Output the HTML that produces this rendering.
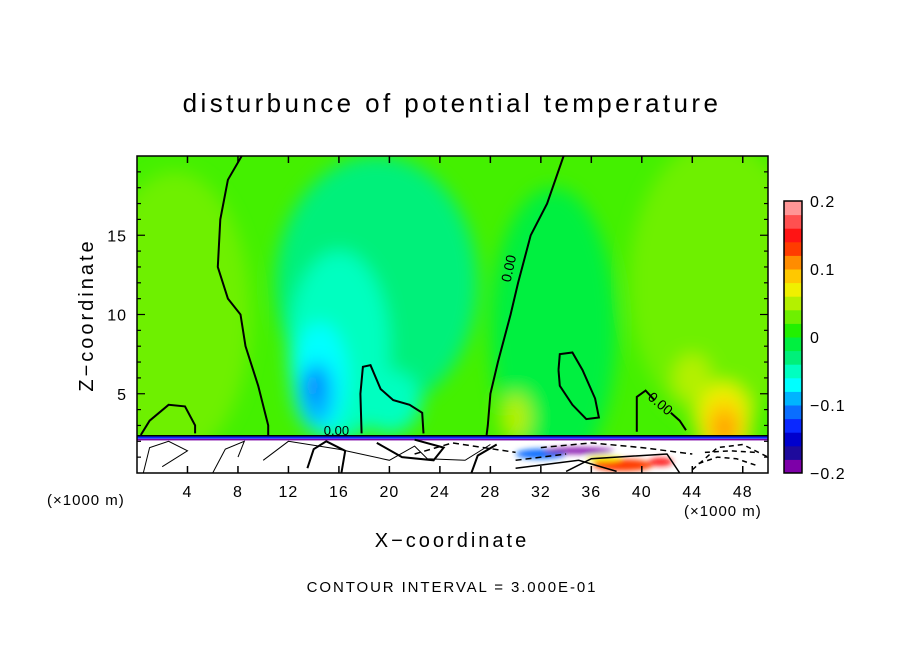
<!DOCTYPE html>
<html><head><meta charset="utf-8"><style>
html,body{margin:0;padding:0;background:#fff;}
svg{display:block;font-family:"Liberation Sans",sans-serif;}
</style></head><body>
<svg id="chart" width="904" height="654" viewBox="0 0 904 654" xmlns="http://www.w3.org/2000/svg">
<defs>
<clipPath id="plotclip"><rect x="137" y="156" width="631" height="317"/></clipPath>
<filter id="blur" x="-50%" y="-50%" width="200%" height="200%"><feGaussianBlur stdDeviation="9"/></filter>
<filter id="blur2" x="-50%" y="-50%" width="200%" height="200%"><feGaussianBlur stdDeviation="3"/></filter>
</defs>
<text x="452" y="112" text-anchor="middle" font-size="26" fill="#000" letter-spacing="3.4">disturbunce of potential temperature</text>
<g id="field" clip-path="url(#plotclip)"></g>
<g id="lines" clip-path="url(#plotclip)" fill="none" stroke="#000" stroke-width="2"></g>
<rect x="137" y="156" width="631" height="317" fill="none" stroke="#000" stroke-width="1.5"/>
<g id="axes"></g>
<g id="cbar"></g>
<text x="452" y="547" text-anchor="middle" font-size="20" letter-spacing="3">X−coordinate</text>
<text transform="translate(93,315) rotate(-90)" text-anchor="middle" font-size="20" letter-spacing="3">Z−coordinate</text>
<text x="47" y="505" font-size="15" letter-spacing="1">(×1000 m)</text>
<text x="684" y="516" font-size="15" letter-spacing="1">(×1000 m)</text>
<text x="452" y="592" text-anchor="middle" font-size="15" letter-spacing="1.9">CONTOUR INTERVAL = 3.000E-01</text>
</svg>
<script>
const xTicks=[4,8,12,16,20,24,28,32,36,40,44,48];
const zTicks=[5,10,15];
const cbarColors=["#7d00a8","#1e0a9c","#0000cd","#0a28ff","#0a6eff","#00b4ff","#00ffff","#00ffc0","#00f07a","#00f040","#22f000","#6ef000","#b4f000","#f0f000","#ffc800","#ff8c00","#ff3c00","#ff1414","#ff5050","#ff9696"];
const cbarLabels=["-0.2","-0.1","0","0.1","0.2"];
const cbarLabelValues=[-0.2,-0.1,0,0.1,0.2];
// blobs: [x, z, rx, rz, level]
const blobX=[3,46,19,33,16,14.5,14.3,13.9,46.5,46.5,46.6,30,44,20];
const blobZ=[10,12,12,9,8,6,5,5.5,3.2,3,2.8,3.5,6,4.5];
const blobRX=[6,7,8,5,4,2.2,1.3,0.6,2.2,1.4,0.7,1.2,1.5,2.5];
const blobRZ=[9,9,8,9,6,3.5,2,1,2.5,1.6,0.8,1.5,1.5,2];
const blobLevel=[11,11,8,9,7,6,5,4,13,14,15,12,12,7];
const X=v=>137+v*12.62, Z=v=>473-v*15.85;
const NS="http://www.w3.org/2000/svg";
function mk(t,a,p){const e=document.createElementNS(NS,t);for(const k in a)e.setAttribute(k,a[k]);p.appendChild(e);return e;}
const field=document.getElementById('field');
const bg=mk('rect',{x:137,y:156,width:631,height:317,fill:"#44f000"},field);


const bl=mk('g',{filter:'url(#blur)'},field);
for(let i=0;i<blobX.length;i++){
 const e=mk('ellipse',{cx:X(blobX[i]),cy:Z(blobZ[i]),rx:blobRX[i]*12.62,ry:blobRZ[i]*15.85,fill:cbarColors[blobLevel[i]]},bl);
 
 
}
const low=mk('g',{},field);


mk('rect',{x:137,y:Z(2.3),width:631,height:Z(0)-Z(2.3),fill:"#fff"},low);
const lb=mk('g',{filter:'url(#blur2)'},low);
mk('ellipse',{cx:X(32),cy:Z(1.2),rx:25,ry:5,fill:"#0a6eff"},lb);
mk('ellipse',{cx:X(35),cy:Z(1.4),rx:35,ry:3,fill:"#7d00a8"},lb);
mk('ellipse',{cx:X(38.5),cy:Z(0.5),rx:30,ry:6,fill:"#ff3c00"},lb);
mk('ellipse',{cx:X(37),cy:Z(0.9),rx:18,ry:3,fill:"#f0f000"},lb);
mk('ellipse',{cx:X(41.5),cy:Z(0.7),rx:12,ry:4,fill:"#ff1414"},lb);
mk('rect',{x:137,y:Z(2.35),width:631,height:3,fill:"#0a28ff"},low);
mk('rect',{x:137,y:Z(2.15),width:631,height:1.5,fill:"#7d00a8"},low);
const L=document.getElementById('lines');
function poly(pts,w,dash){let d='';pts.forEach((p,i)=>d+=(i?'L':'M')+X(p[0]).toFixed(1)+','+Z(p[1]).toFixed(1));const e=mk('path',{d:d,'stroke-width':w||2},L);if(dash)e.setAttribute('stroke-dasharray',dash);return e;}
poly([[0.3,2.4],[1,3.3],[2.5,4.3],[3.8,4.2],[4.6,3],[4.6,2.5]]);
poly([[8.3,20],[7.2,18.5],[6.6,16],[6.4,13],[7.2,11],[8.2,10],[8.6,8],[9.6,5.5],[10.4,3],[10.4,2.4]]);
poly([[33.8,20],[32.5,17],[31.2,15],[30.2,12],[29.6,10],[28.6,7],[28,5],[27.8,3],[27.7,2.4]]);
poly([[17.8,2.5],[17.7,5],[17.9,6.7],[18.5,6.8],[19.3,5.3],[20.3,4.6],[21.6,4.3],[22.6,3.8],[22.7,2.5]]);
poly([[33.4,6.5],[33.5,7.5],[34.5,7.6],[35.3,6.5],[36.3,4.7],[36.6,3.5],[35.6,3.4],[34.5,4.3],[33.5,5.5],[33.4,6.5]]);
poly([[39.6,2.6],[39.6,4.8],[40.3,5.2],[41,4.6]]);
poly([[42.3,3.8],[43,3.3],[43.5,2.7]]);
poly([[0,2.35],[50,2.35]],1.5);
poly([[0.5,0],[1,1.6],[2.5,2],[4,1.4],[2,0.4]],1);
poly([[6,0],[7,1.5],[8.5,2],[8,1]],1);
poly([[10,0.8],[12,2],[16,1.5],[20,0.8],[22,1.7],[23,0.9],[26,0.8],[28,1.8]],1);
poly([[13.5,0.3],[14,1.5],[15,2],[16.5,1.4],[16.2,0]],2);
poly([[19,1.9],[21,1.0],[23.5,0.8],[24.3,1.6],[22,2.1]],2);
poly([[26.5,0],[27,1.1],[28.5,1.8]],2);
poly([[22,1.2],[25,1.9],[30,1.3]],1.5,"6,4");
poly([[30,0.8],[34,1.2]],1.5,"6,4");
poly([[32,1.6],[36,1.9],[40,1.6],[44,1.2]],1.5,"6,4");
poly([[44,0.2],[46,1.6],[48,1.8],[50,1.0]],1.5,"5,4");
poly([[44.5,0.6],[46,1.0],[47.5,0.9],[49,0.5]],1.5,"5,4");
poly([[45,1.3],[47,1.4],[49,1.3]],1.5,"5,4");
poly([[30,0.3],[35,0.8],[38,0.1]],1.5);
poly([[34,0.1],[36,0.9],[42,1.2],[43,0]],1.5);
const lab=mk('text',{x:X(29.6),y:Z(12),'font-size':14,stroke:'none',fill:'#000',transform:`rotate(-78 ${X(29.6)} ${Z(12)})`},L);lab.textContent='0.00';

const lab2=mk('text',{x:X(40.4),y:Z(4.7),'font-size':14,stroke:'none',fill:'#000',transform:`rotate(40 ${X(40.4)} ${Z(4.7)})`},L);lab2.textContent='0.00';

const lab3=mk('text',{x:X(14.8),y:Z(2.4),'font-size':13,stroke:'none',fill:'#000'},L);lab3.textContent='0.00';

const A=document.getElementById('axes');
xTicks.forEach(t=>{
 const l=mk('line',{x1:X(t),x2:X(t),y1:473,y2:466,stroke:'#000','stroke-width':1.5},A);
 
 const l2=mk('line',{x1:X(t),x2:X(t),y1:156,y2:163,stroke:'#000','stroke-width':1.5},A);
 
 const tx=mk('text',{x:X(t),y:497,'text-anchor':'middle','font-size':16,'letter-spacing':1},A);tx.textContent=t;
 
});
for(let t=1;t<20;t++){
 const big=t%5===0;
 const l=mk('line',{x1:137,x2:137+(big?8:4),y1:Z(t),y2:Z(t),stroke:'#000','stroke-width':1.2},A);
 
 const r=mk('line',{x1:768,x2:768-(big?8:4),y1:Z(t),y2:Z(t),stroke:'#000','stroke-width':1.2},A);
 
}
zTicks.forEach(t=>{const tx=mk('text',{x:127,y:Z(t)+6,'text-anchor':'end','font-size':16,'letter-spacing':1},A);tx.textContent=t;
 });
const C=document.getElementById('cbar');
const cTop=201,cBot=473,cx=784,cw=18,h=(cBot-cTop)/cbarColors.length;
const CV=v=>cBot-(v+0.2)/0.4*(cBot-cTop);
cbarColors.forEach((c,i)=>{const r=mk('rect',{x:cx,y:cBot-(i+1)*h,width:cw,height:h+0.5,fill:c},C);
 });
mk('rect',{x:cx,y:cTop,width:cw,height:cBot-cTop,fill:'none',stroke:'#000','stroke-width':1.5},C);
cbarLabels.forEach((s,i)=>{const tx=mk('text',{x:810,y:CV(cbarLabelValues[i])+6,'font-size':16,'letter-spacing':1},C);tx.textContent=s.replace('-','−');
 });
</script>
</body></html>
